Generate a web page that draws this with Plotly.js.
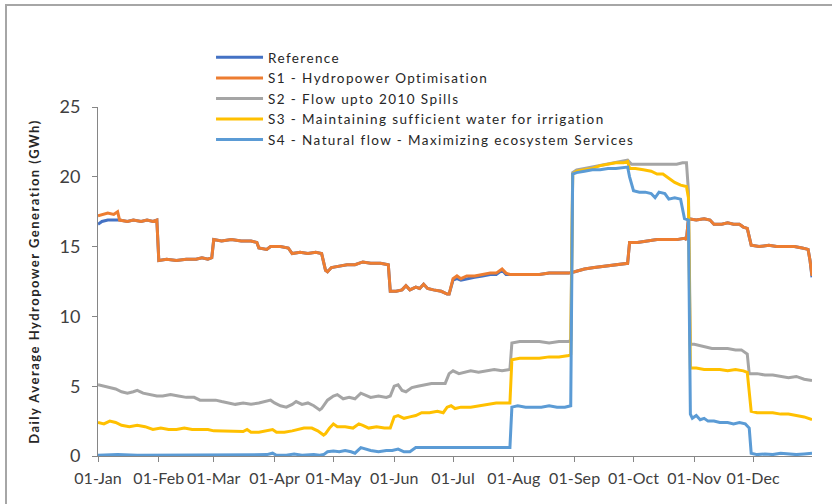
<!DOCTYPE html>
<html>
<head>
<meta charset="utf-8">
<script src="https://cdn.plot.ly/plotly-3.0.1.min.js"></script>
<style>
  html, body { margin: 0; padding: 0; background: #fff; overflow: hidden; }
  #wrap { position: relative; width: 832px; height: 504px; }
  #chart { width: 832px; height: 504px; }
  #frame { position: absolute; left: 5px; top: 4px; width: 900px; height: 600px;
           border-left: 2px solid #a6a6a6; border-top: 2px solid #a6a6a6; pointer-events: none; }
  #chart .legendtext { letter-spacing: 1.4px; }
  #chart .legend .scrollbox, #chart .legend { clip-path: none !important; }
  #chart .ytitle { letter-spacing: 1.5px; }
  #chart .xtick text { letter-spacing: 0.1px; }
</style>
</head>
<body>
<div id="wrap"><div id="chart"></div><div id="frame"></div></div>
<script>
// ---- DATA (day-of-year index: 0 = 01-Jan) ----
const seriesNames = [
  "Reference",
  "S1 - Hydropower Optimisation",
  "S2 - Flow upto 2010 Spills",
  "S3 - Maintaining sufficient water for irrigation",
  "S4 - Natural flow - Maximizing ecosystem Services"
];

const refS1Days = [0,2,5,8,10,11,15,18,22,25,28,30,31,35,40,45,50,53,56,58,59,63,68,73,78,81,82,86,88,93,97,99,103,107,111,114,116,117,119,123,127,131,135,139,144,148,149,152,155,157,159,162,164,166,168,171,175,178,179,181,183,185,188,192,196,200,203,206,208,210,215,220,225,230,235,240,243,248,253,258,263,268,270,271,275,280,285,290,295,299,300,301,305,309,312,314,318,321,324,327,329,331,333,337,342,346,350,355,359,362,363,364];
const refValues = [16.6,16.8,16.9,16.9,16.9,16.9,16.8,16.9,16.8,16.9,16.8,16.9,14.0,14.1,14.0,14.1,14.1,14.2,14.1,14.2,15.5,15.4,15.5,15.4,15.4,15.3,14.9,14.8,15.0,15.0,14.9,14.5,14.6,14.5,14.6,14.5,13.3,13.2,13.5,13.6,13.7,13.7,13.9,13.8,13.8,13.7,11.8,11.8,11.9,12.2,11.9,12.1,12.0,12.3,12.0,11.9,11.8,11.6,11.6,12.6,12.7,12.6,12.7,12.8,12.9,13.0,13.0,13.3,13.0,13.0,13.0,13.0,13.0,13.1,13.1,13.1,13.2,13.4,13.5,13.6,13.7,13.8,13.8,15.3,15.3,15.4,15.5,15.5,15.5,15.6,15.5,17.0,16.9,17.0,16.9,16.6,16.6,16.7,16.6,16.6,16.4,16.3,15.1,15.0,15.1,15.0,15.0,15.0,14.9,14.8,14.0,12.8];
const s1Values  = [17.2,17.3,17.4,17.3,17.5,16.9,16.8,16.9,16.8,16.9,16.8,16.9,14.0,14.1,14.0,14.1,14.1,14.2,14.1,14.2,15.5,15.4,15.5,15.4,15.4,15.3,14.9,14.8,15.0,15.0,14.9,14.5,14.6,14.5,14.6,14.5,13.3,13.2,13.5,13.6,13.7,13.7,13.9,13.8,13.8,13.7,11.8,11.8,11.9,12.2,11.9,12.1,12.0,12.3,12.0,11.9,11.8,11.6,11.6,12.7,12.9,12.7,12.9,12.9,13.0,13.1,13.1,13.4,13.1,13.0,13.0,13.0,13.0,13.1,13.1,13.1,13.2,13.4,13.5,13.6,13.7,13.8,13.8,15.3,15.3,15.4,15.5,15.5,15.5,15.6,15.5,17.0,16.9,17.0,16.9,16.6,16.6,16.7,16.6,16.6,16.4,16.3,15.1,15.0,15.1,15.0,15.0,15.0,14.9,14.8,14.0,12.9];

const s2Days   = [0,3,6,9,12,15,18,20,23,27,30,33,37,41,45,49,52,56,60,63,66,70,74,78,82,85,88,90,93,96,99,101,104,107,110,113,114,117,120,122,125,128,131,134,136,139,143,147,149,151,153,155,157,160,163,166,170,174,177,179,181,184,187,190,194,198,202,206,210,211,215,220,225,230,235,240,241,242,244,248,252,256,260,264,268,270,272,276,280,285,290,295,298,300,301,302,304,307,310,313,317,321,325,328,331,332,336,340,344,348,352,356,360,364];
const s2Values = [5.1,5.0,4.9,4.8,4.6,4.5,4.6,4.7,4.5,4.4,4.3,4.3,4.4,4.3,4.2,4.2,4.0,4.0,4.0,3.9,3.8,3.7,3.8,3.7,3.8,3.9,4.0,3.8,3.6,3.5,3.7,3.9,3.7,3.8,3.6,3.3,3.4,4.0,4.3,4.4,4.1,4.2,4.1,4.5,4.4,4.2,4.3,4.2,4.3,5.0,5.1,4.7,4.6,4.9,5.0,5.1,5.2,5.2,5.2,5.9,6.1,5.9,6.0,6.1,6.0,6.1,6.2,6.1,6.2,8.1,8.2,8.2,8.2,8.1,8.2,8.2,8.3,20.3,20.5,20.6,20.7,20.8,20.9,21.0,21.1,21.2,20.9,20.9,20.9,20.9,20.9,20.9,21.0,21.0,19.0,8.0,8.0,7.9,7.8,7.7,7.7,7.7,7.6,7.6,7.3,5.9,5.9,5.8,5.8,5.7,5.6,5.7,5.5,5.4];

const s3Days   = [0,3,6,9,12,16,20,24,28,32,36,40,44,48,52,56,59,63,67,71,74,76,78,82,86,89,91,95,99,102,105,109,112,115,116,118,120,122,126,130,133,135,138,142,146,149,151,153,156,159,162,165,169,173,176,178,180,182,185,190,195,199,203,207,210,211,215,220,225,230,235,240,241,242,244,248,252,256,260,264,268,270,271,274,278,282,285,288,291,294,297,300,301,302,305,309,313,317,321,325,329,331,333,336,340,344,348,352,356,360,364];
const s3Values = [2.4,2.3,2.5,2.4,2.2,2.1,2.2,2.1,1.9,2.0,1.9,1.9,2.0,1.9,1.9,1.9,1.8,1.8,1.75,1.8,1.75,1.9,1.7,1.7,1.8,1.9,1.7,1.7,1.8,1.9,2.0,2.0,1.8,1.5,1.6,2.0,2.3,2.1,2.1,2.0,2.3,2.2,2.0,2.1,2.0,2.0,2.8,2.9,2.7,2.8,2.9,3.1,3.1,3.2,3.1,3.5,3.6,3.4,3.5,3.5,3.6,3.7,3.8,3.8,3.8,6.9,7.0,7.0,7.0,7.1,7.1,7.2,7.3,20.2,20.4,20.5,20.6,20.8,20.9,21.0,21.0,21.1,20.6,20.6,20.5,20.4,20.2,20.2,19.9,19.6,19.4,19.3,18.5,6.3,6.3,6.2,6.2,6.2,6.1,6.2,6.1,6.0,3.2,3.1,3.1,3.1,3.0,3.0,2.9,2.8,2.6];

const s4Days   = [0,10,20,30,40,50,60,70,80,86,89,91,96,100,104,110,113,115,117,120,123,126,129,131,134,136,139,143,147,150,153,156,159,162,166,170,175,180,185,190,195,200,205,210,211,214,218,222,226,230,234,238,241,242,244,248,252,256,260,264,268,270,271,273,276,279,282,284,286,289,291,294,297,299,301,302,303,305,307,309,311,314,317,321,324,327,330,332,333,336,340,344,348,352,356,360,364];
const s4Values = [0.05,0.1,0.05,0.05,0.05,0.05,0.05,0.05,0.05,0.1,0.2,0.05,0.05,0.15,0.05,0.1,0.05,0.1,0.3,0.35,0.3,0.4,0.3,0.2,0.6,0.5,0.4,0.3,0.4,0.4,0.5,0.3,0.3,0.6,0.6,0.6,0.6,0.6,0.6,0.6,0.65,0.6,0.6,0.6,3.5,3.6,3.5,3.5,3.5,3.6,3.5,3.5,3.6,20.2,20.3,20.4,20.5,20.5,20.6,20.6,20.7,20.7,20.0,19.0,18.9,18.9,18.8,18.5,18.9,18.8,18.4,18.5,18.4,17.0,16.9,3.0,2.7,2.9,2.6,2.7,2.5,2.5,2.4,2.4,2.3,2.4,2.3,2.0,0.2,0.1,0.15,0.1,0.2,0.15,0.1,0.15,0.2];

const seriesColors = ["#4472C4", "#ED7D31", "#A5A5A5", "#FFC000", "#5B9BD5"];
const yTickValues = [0, 5, 10, 15, 20, 25];

// ---- helpers ----
function dayToDate(d) {
  const t = Date.UTC(2010, 0, 1) + d * 86400000;
  return new Date(t).toISOString().slice(0, 10);
}

const seriesDays = [refS1Days, refS1Days, s2Days, s3Days, s4Days];
const seriesValues = [refValues, s1Values, s2Values, s3Values, s4Values];

const traces = seriesNames.map((name, i) => ({
  type: "scatter",
  mode: "lines",
  name: name,
  x: seriesDays[i].map(dayToDate),
  y: seriesValues[i],
  line: { color: seriesColors[i], width: 3, shape: "linear" }
}));

const axisGray = "#868686";
const layout = {
  width: 832,
  height: 504,
  margin: { l: 98, r: 20, t: 107, b: 48 },
  paper_bgcolor: "#ffffff",
  plot_bgcolor: "#ffffff",
  font: { family: "Lato, 'Liberation Sans', sans-serif", color: "#404040" },
  showlegend: true,
  legend: {
    x: 0.1583, xanchor: "left",
    y: 1.186, yanchor: "top",
    bgcolor: "rgba(0,0,0,0)",
    borderwidth: 0,
    itemwidth: 47,
    font: { size: 13.5, color: "#262626", family: "Lato, sans-serif" },
    tracegroupgap: 0
  },
  xaxis: {
    type: "date",
    range: ["2010-01-01", "2010-12-31"],
    tick0: "2010-01-01",
    dtick: "M1",
    tickformat: "%d-%b",
    showgrid: false,
    zeroline: false,
    showline: true,
    linecolor: axisGray,
    linewidth: 1,
    ticks: "outside",
    ticklen: 5,
    tickcolor: axisGray,
    ticklabelstandoff: 3,
    tickfont: { size: 16, color: "#404040", family: "Lato, sans-serif" }
  },
  yaxis: {
    range: [0, 25],
    tickvals: yTickValues,
    showgrid: false,
    zeroline: false,
    showline: true,
    linecolor: axisGray,
    linewidth: 1,
    ticks: "outside",
    ticklen: 5,
    tickcolor: axisGray,
    ticklabelstandoff: 8,
    tickfont: { size: 18, color: "#404040", family: "Lato, sans-serif" },
    title: {
      text: "Daily Average Hydropower Generation (GWh)",
      font: { size: 13, color: "#262626", family: "Lato, sans-serif", weight: "bold" },
      standoff: 16
    }
  }
};

Plotly.newPlot("chart", traces, layout, { staticPlot: true, displayModeBar: false });
</script>
</body>
</html>
